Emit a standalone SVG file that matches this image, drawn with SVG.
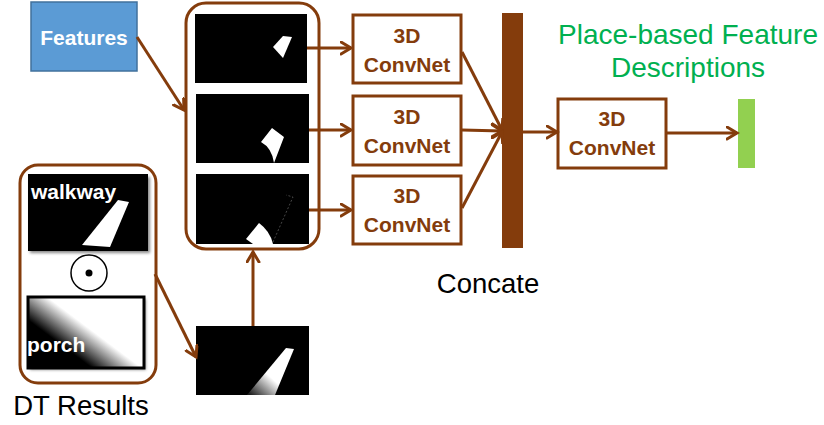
<svg xmlns="http://www.w3.org/2000/svg" width="824" height="425" viewBox="0 0 824 425">
  <style>
    .frame { fill: none; stroke: #843C0C; stroke-width: 3; }
    .box { fill: #FFFFFF; stroke: #843C0C; stroke-width: 3; }
    .conn { fill: none; stroke: #843C0C; stroke-width: 3; }
    .lbl { font-family: "Liberation Sans", Arial, sans-serif; font-weight: bold; font-size: 21px; fill: #843C0C; text-anchor: middle; }
    .cap { font-family: "Liberation Sans", Arial, sans-serif; font-size: 27.5px; fill: #000000; text-anchor: middle; }
    .tag { font-family: "Liberation Sans", Arial, sans-serif; font-weight: bold; font-size: 21px; fill: #FFFFFF; }
    .green { font-family: "Liberation Sans", Arial, sans-serif; font-size: 28px; fill: #00B050; text-anchor: middle; }
    .img { fill: #000000; }
    .shape { fill: #FFFFFF; }
  </style>
  <defs>
    <marker id="arrow" markerUnits="userSpaceOnUse" markerWidth="16" markerHeight="16" refX="11" refY="7" orient="auto">
      <path d="M1,1 L11,7 L1,13" fill="none" stroke="#843C0C" stroke-width="3" stroke-linecap="round" stroke-linejoin="miter"/>
    </marker>
    <linearGradient id="porchGrad" gradientUnits="userSpaceOnUse" x1="60" y1="344" x2="78" y2="320">
      <stop offset="0" stop-color="#000000"/>
      <stop offset="1" stop-color="#FFFFFF"/>
    </linearGradient>
    <linearGradient id="stripGrad" gradientUnits="userSpaceOnUse" x1="290" y1="350" x2="250" y2="395">
      <stop offset="0" stop-color="#FFFFFF"/>
      <stop offset="0.55" stop-color="#FFFFFF"/>
      <stop offset="1" stop-color="#1A1A1A"/>
    </linearGradient>
    <filter id="soft" x="-10%" y="-10%" width="130%" height="130%">
      <feGaussianBlur stdDeviation="1.5"/>
    </filter>
  </defs>

  <!-- input features -->
  <g id="features">
    <rect x="31" y="2" width="106" height="69" fill="#5B9BD5" stroke="#41719C" stroke-width="1.5"/>
    <text x="84" y="45" class="tag" text-anchor="middle">Features</text>
  </g>

  <!-- stack of place masks -->
  <g id="mask-stack">
    <rect x="186" y="3" width="133" height="246" rx="20" class="frame"/>
    <rect x="195" y="14" width="112" height="69" class="img"/>
    <polygon class="shape" points="273,47 283,36 292,37 283,58"/>
    <rect x="196" y="94" width="113" height="69" class="img"/>
    <path class="shape" d="M261,142 L272,128 L284,137 L274,163 Q272,148 261,142 Z"/>
    <rect x="196" y="174" width="113" height="70" class="img"/>
    <path class="shape" d="M246,239 L259,223 Q270,231 273,244 L253,244 Z"/>
    <polyline points="273,242 293,197 286,195" fill="none" stroke="#666666" stroke-width="0.7" stroke-dasharray="2,2"/>
  </g>

  <!-- distance transform results -->
  <g id="dt-results">
    <rect x="20" y="165" width="136" height="218" rx="18" class="frame"/>
    <rect x="30" y="177" width="120" height="76" fill="#888888" filter="url(#soft)"/>
    <rect x="28" y="174" width="120" height="77" class="img"/>
    <polygon class="shape" points="118,200 129,202 110,247 82,245"/>
    <text x="31" y="199" class="tag">walkway</text>
    <circle cx="89" cy="273" r="18" fill="#FFFFFF" stroke="#000000" stroke-width="1.5"/>
    <circle cx="89" cy="273" r="3.5" fill="#000000"/>
    <rect x="30" y="299" width="116" height="71" fill="#999999" filter="url(#soft)"/>
    <rect x="28" y="297" width="116" height="71" fill="url(#porchGrad)" stroke="#000000" stroke-width="3"/>
    <text x="27" y="352" class="tag">porch</text>
    <text x="81" y="415" class="cap">DT Results</text>
  </g>

  <!-- combined mask -->
  <g id="combined-mask">
    <rect x="196" y="326" width="113" height="69" class="img"/>
    <polygon points="286,348 294,349 275,395 247,395" fill="url(#stripGrad)"/>
  </g>

  <!-- branch networks -->
  <g id="convnet-1">
    <rect x="353" y="15" width="108" height="68" class="box"/>
    <text x="407" y="43" class="lbl">3D</text>
    <text x="407" y="72" class="lbl">ConvNet</text>
  </g>
  <g id="convnet-2">
    <rect x="353" y="96" width="108" height="69" class="box"/>
    <text x="407" y="124" class="lbl">3D</text>
    <text x="407" y="153" class="lbl">ConvNet</text>
  </g>
  <g id="convnet-3">
    <rect x="353" y="176" width="108" height="68" class="box"/>
    <text x="407" y="203" class="lbl">3D</text>
    <text x="407" y="232" class="lbl">ConvNet</text>
  </g>

  <!-- concatenation -->
  <g id="concat">
    <rect x="502" y="13" width="21" height="235" fill="#843C0C"/>
    <text x="488" y="293" class="cap">Concate</text>
  </g>

  <!-- fusion network -->
  <g id="convnet-4">
    <rect x="558" y="99" width="108" height="69" class="box"/>
    <text x="612" y="126" class="lbl">3D</text>
    <text x="612" y="155" class="lbl">ConvNet</text>
  </g>

  <!-- output descriptor -->
  <g id="output">
    <rect x="738" y="99" width="17" height="69" fill="#92D050"/>
    <text x="688" y="44" class="green">Place-based Feature</text>
    <text x="688" y="77" class="green">Descriptions</text>
  </g>

  <g id="connectors">
    <line x1="137" y1="37" x2="184" y2="110" class="conn" marker-end="url(#arrow)"/>
    <line x1="307" y1="48" x2="351" y2="48" class="conn" marker-end="url(#arrow)"/>
    <line x1="309" y1="130" x2="351" y2="130" class="conn" marker-end="url(#arrow)"/>
    <line x1="309" y1="210" x2="351" y2="210" class="conn" marker-end="url(#arrow)"/>
    <line x1="155" y1="274" x2="196" y2="357" class="conn" marker-end="url(#arrow)"/>
    <line x1="253" y1="326" x2="253" y2="252" class="conn" marker-end="url(#arrow)"/>
    <line x1="462" y1="52" x2="502" y2="130" class="conn" marker-end="url(#arrow)"/>
    <line x1="462" y1="130" x2="502" y2="131" class="conn" marker-end="url(#arrow)"/>
    <line x1="462" y1="208" x2="502" y2="132" class="conn" marker-end="url(#arrow)"/>
    <line x1="523" y1="132" x2="557" y2="132" class="conn" marker-end="url(#arrow)"/>
    <line x1="666" y1="133" x2="737" y2="133" class="conn" marker-end="url(#arrow)"/>
  </g>
</svg>
